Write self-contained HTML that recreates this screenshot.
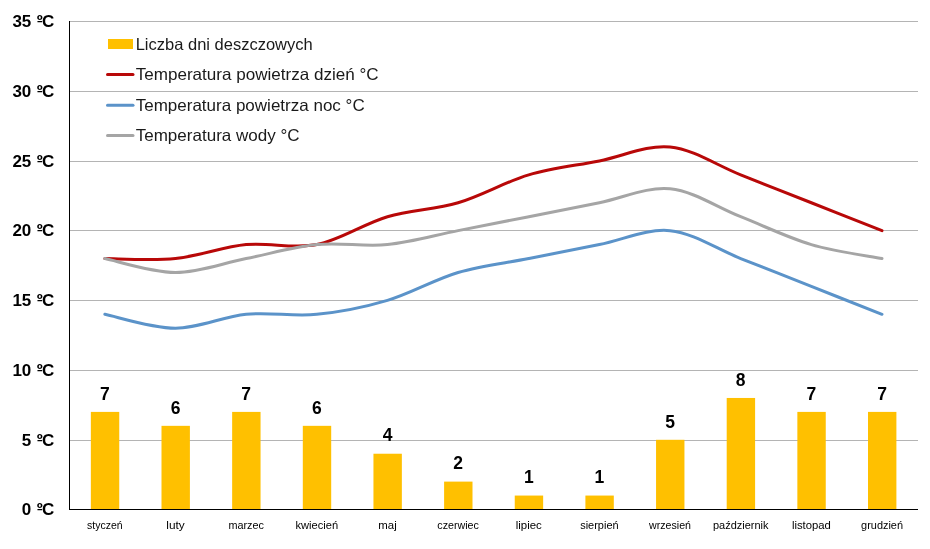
<!DOCTYPE html><html><head><meta charset="utf-8"><title>Wykres</title><style>html,body{margin:0;padding:0;background:#fff}svg{display:block}text{font-family:"Liberation Sans",sans-serif;fill:#000}.ax{font-weight:bold;font-size:17px}.ord{font-family:"DejaVu Sans Condensed","DejaVu Sans",sans-serif;font-weight:bold;font-size:13px}.lg{font-size:16.5px;fill:#1a1a1a}.mo{font-size:11px;fill:#000}.dl{font-weight:bold;font-size:17.5px}</style></head><body>
<svg width="930" height="549" viewBox="0 0 930 549">
<rect width="930" height="549" fill="#fff"/>
<rect x="70" y="440" width="848" height="1" fill="#b4b4b4"/>
<rect x="70" y="370" width="848" height="1" fill="#b4b4b4"/>
<rect x="70" y="300" width="848" height="1" fill="#b4b4b4"/>
<rect x="70" y="230" width="848" height="1" fill="#b4b4b4"/>
<rect x="70" y="161" width="848" height="1" fill="#b4b4b4"/>
<rect x="70" y="91" width="848" height="1" fill="#b4b4b4"/>
<rect x="70" y="21" width="848" height="1" fill="#b4b4b4"/>
<rect x="90.85" y="411.90" width="28.4" height="97.60" fill="#ffc000"/>
<rect x="161.50" y="425.84" width="28.4" height="83.66" fill="#ffc000"/>
<rect x="232.15" y="411.90" width="28.4" height="97.60" fill="#ffc000"/>
<rect x="302.80" y="425.84" width="28.4" height="83.66" fill="#ffc000"/>
<rect x="373.45" y="453.73" width="28.4" height="55.77" fill="#ffc000"/>
<rect x="444.10" y="481.61" width="28.4" height="27.89" fill="#ffc000"/>
<rect x="514.75" y="495.56" width="28.4" height="13.94" fill="#ffc000"/>
<rect x="585.40" y="495.56" width="28.4" height="13.94" fill="#ffc000"/>
<rect x="656.05" y="439.79" width="28.4" height="69.71" fill="#ffc000"/>
<rect x="726.70" y="397.96" width="28.4" height="111.54" fill="#ffc000"/>
<rect x="797.35" y="411.90" width="28.4" height="97.60" fill="#ffc000"/>
<rect x="868.00" y="411.90" width="28.4" height="97.60" fill="#ffc000"/>
<rect x="69" y="21" width="1" height="489" fill="#000"/>
<rect x="69" y="509" width="849" height="1" fill="#000"/>
<path d="M104.85 258.53 C116.62 258.53 151.95 260.85 175.50 258.53 C199.05 256.20 222.60 246.91 246.15 244.59 C269.70 242.26 293.25 249.23 316.80 244.59 C340.35 239.94 363.90 223.67 387.45 216.70 C411.00 209.73 434.55 209.73 458.10 202.76 C481.65 195.79 505.20 181.84 528.75 174.87 C552.30 167.90 575.85 165.58 599.40 160.93 C622.95 156.28 646.50 144.66 670.05 146.99 C693.60 149.31 717.15 165.58 740.70 174.87 C764.25 184.17 787.80 193.46 811.35 202.76 C834.90 212.05 870.23 226.00 882.00 230.64" fill="none" stroke="#b80808" stroke-width="3" stroke-linecap="round" stroke-linejoin="round"/>
<path d="M104.85 314.30 C116.62 316.62 151.95 328.24 175.50 328.24 C199.05 328.24 222.60 316.62 246.15 314.30 C269.70 311.98 293.25 316.62 316.80 314.30 C340.35 311.98 363.90 307.33 387.45 300.36 C411.00 293.39 434.55 279.44 458.10 272.47 C481.65 265.50 505.20 263.18 528.75 258.53 C552.30 253.88 575.85 249.23 599.40 244.59 C622.95 239.94 646.50 228.32 670.05 230.64 C693.60 232.97 717.15 249.23 740.70 258.53 C764.25 267.82 787.80 277.12 811.35 286.41 C834.90 295.71 870.23 309.65 882.00 314.30" fill="none" stroke="#5b93c9" stroke-width="3" stroke-linecap="round" stroke-linejoin="round"/>
<path d="M104.85 258.53 C116.62 260.85 151.95 272.47 175.50 272.47 C199.05 272.47 222.60 263.18 246.15 258.53 C269.70 253.88 293.25 246.91 316.80 244.59 C340.35 242.26 363.90 246.91 387.45 244.59 C411.00 242.26 434.55 235.29 458.10 230.64 C481.65 226.00 505.20 221.35 528.75 216.70 C552.30 212.05 575.85 207.40 599.40 202.76 C622.95 198.11 646.50 186.49 670.05 188.81 C693.60 191.14 717.15 207.40 740.70 216.70 C764.25 226.00 787.80 237.61 811.35 244.59 C834.90 251.56 870.23 256.20 882.00 258.53" fill="none" stroke="#a5a5a5" stroke-width="3" stroke-linecap="round" stroke-linejoin="round"/>
<text class="ax" x="31.3" y="515.3" text-anchor="end">0</text><text class="ord" x="36.6" y="511.5">º</text><text class="ax" x="41.9" y="515.3">C</text>
<text class="ax" x="31.3" y="446.3" text-anchor="end">5</text><text class="ord" x="36.6" y="442.5">º</text><text class="ax" x="41.9" y="446.3">C</text>
<text class="ax" x="31.3" y="376.3" text-anchor="end">10</text><text class="ord" x="36.6" y="372.5">º</text><text class="ax" x="41.9" y="376.3">C</text>
<text class="ax" x="31.3" y="306.3" text-anchor="end">15</text><text class="ord" x="36.6" y="302.5">º</text><text class="ax" x="41.9" y="306.3">C</text>
<text class="ax" x="31.3" y="236.3" text-anchor="end">20</text><text class="ord" x="36.6" y="232.5">º</text><text class="ax" x="41.9" y="236.3">C</text>
<text class="ax" x="31.3" y="167.3" text-anchor="end">25</text><text class="ord" x="36.6" y="163.5">º</text><text class="ax" x="41.9" y="167.3">C</text>
<text class="ax" x="31.3" y="97.3" text-anchor="end">30</text><text class="ord" x="36.6" y="93.5">º</text><text class="ax" x="41.9" y="97.3">C</text>
<text class="ax" x="31.3" y="27.3" text-anchor="end">35</text><text class="ord" x="36.6" y="23.5">º</text><text class="ax" x="41.9" y="27.3">C</text>
<text class="mo" x="87.1" y="528.9" textLength="35.5" lengthAdjust="spacingAndGlyphs">styczeń</text>
<text class="mo" x="166.3" y="528.9" textLength="18.4" lengthAdjust="spacingAndGlyphs">luty</text>
<text class="mo" x="228.4" y="528.9" textLength="35.5" lengthAdjust="spacingAndGlyphs">marzec</text>
<text class="mo" x="295.5" y="528.9" textLength="42.6" lengthAdjust="spacingAndGlyphs">kwiecień</text>
<text class="mo" x="378.3" y="528.9" textLength="18.4" lengthAdjust="spacingAndGlyphs">maj</text>
<text class="mo" x="437.3" y="528.9" textLength="41.6" lengthAdjust="spacingAndGlyphs">czerwiec</text>
<text class="mo" x="515.7" y="528.9" textLength="26.1" lengthAdjust="spacingAndGlyphs">lipiec</text>
<text class="mo" x="580.2" y="528.9" textLength="38.4" lengthAdjust="spacingAndGlyphs">sierpień</text>
<text class="mo" x="649.1" y="528.9" textLength="41.9" lengthAdjust="spacingAndGlyphs">wrzesień</text>
<text class="mo" x="713.0" y="528.9" textLength="55.5" lengthAdjust="spacingAndGlyphs">październik</text>
<text class="mo" x="791.9" y="528.9" textLength="39.0" lengthAdjust="spacingAndGlyphs">listopad</text>
<text class="mo" x="861.1" y="528.9" textLength="41.9" lengthAdjust="spacingAndGlyphs">grudzień</text>
<text class="dl" x="104.8" y="399.6" text-anchor="middle">7</text>
<text class="dl" x="175.5" y="413.5" text-anchor="middle">6</text>
<text class="dl" x="246.2" y="399.6" text-anchor="middle">7</text>
<text class="dl" x="316.8" y="413.5" text-anchor="middle">6</text>
<text class="dl" x="387.5" y="441.4" text-anchor="middle">4</text>
<text class="dl" x="458.1" y="469.3" text-anchor="middle">2</text>
<text class="dl" x="528.8" y="483.3" text-anchor="middle">1</text>
<text class="dl" x="599.4" y="483.3" text-anchor="middle">1</text>
<text class="dl" x="670.1" y="427.5" text-anchor="middle">5</text>
<text class="dl" x="740.7" y="385.7" text-anchor="middle">8</text>
<text class="dl" x="811.4" y="399.6" text-anchor="middle">7</text>
<text class="dl" x="882.0" y="399.6" text-anchor="middle">7</text>
<rect x="108" y="39" width="25" height="10" fill="#ffc000"/>
<line x1="107.5" x2="133" y1="74.4" y2="74.4" stroke="#b80808" stroke-width="3" stroke-linecap="round"/>
<line x1="107.5" x2="133" y1="105.3" y2="105.3" stroke="#5b93c9" stroke-width="3" stroke-linecap="round"/>
<line x1="107.5" x2="133" y1="135.6" y2="135.6" stroke="#a5a5a5" stroke-width="3" stroke-linecap="round"/>
<text class="lg" x="135.7" y="49.5" textLength="177" lengthAdjust="spacingAndGlyphs">Liczba dni deszczowych</text>
<text class="lg" x="135.7" y="79.8" textLength="243" lengthAdjust="spacingAndGlyphs">Temperatura powietrza dzień °C</text>
<text class="lg" x="135.7" y="110.8" textLength="229" lengthAdjust="spacingAndGlyphs">Temperatura powietrza noc °C</text>
<text class="lg" x="135.7" y="140.5" textLength="164" lengthAdjust="spacingAndGlyphs">Temperatura wody °C</text>
</svg></body></html>
